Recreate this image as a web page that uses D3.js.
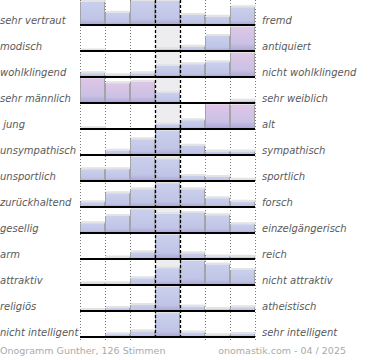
<!DOCTYPE html>
<html><head><meta charset="utf-8">
<script src="https://cdn.jsdelivr.net/npm/d3@7/dist/d3.min.js"></script>
<style>
html,body{margin:0;padding:0;background:#fff;}
svg{display:block;}
text{font-family:"DejaVu Sans",sans-serif;}
</style></head>
<body>
<script>
const leftLabels = ["sehr vertraut","modisch","wohlklingend","sehr männlich"," jung","unsympathisch","unsportlich","zurückhaltend","gesellig","arm","attraktiv","religiös","nicht intelligent"];
const rightLabels = ["fremd","antiquiert","nicht wohlklingend","sehr weiblich","alt","sympathisch","sportlich","forsch","einzelgängerisch","reich","nicht attraktiv","atheistisch","sehr intelligent"];
const scaleSteps = [1,2,3,4,5,6,7];
const row01 = [93, 49, 96, 96, 40, 33, 71];
const row02 = [2, 0, 0, 8, 17, 60, 97];
const row03 = [15, 7, 15, 44, 51, 59, 97];
const row04 = [99, 79, 85, 41, 0, 0, 9];
const row05 = [3, 0, 0, 19, 35, 99, 97];
const row06 = [0, 17, 63, 97, 37, 14, 14];
const row07 = [47, 47, 97, 87, 20, 16, 5];
const row08 = [19, 55, 71, 95, 71, 35, 21];
const row09 = [39, 68, 95, 76, 80, 71, 35];
const row10 = [0, 6, 27, 97, 23, 10, 9];
const row11 = [7, 7, 27, 67, 97, 82, 60];
const row12 = [4, 12, 24, 97, 18, 8, 15];
const row13 = [0, 11, 23, 95, 18, 7, 12];
const rows = [row01,row02,row03,row04,row05,row06,row07,row08,row09,row10,row11,row12,row13];
// bars drawn in the accent (pink) gradient: [row index, step index]
const accentBars = [[1,6],[2,6],[3,0],[3,1],[3,2],[4,5],[4,6]];
const footerLeft = "Onogramm Gunther, 126 Stimmen";
const footerRight = "onomastik.com - 04 / 2025";

const W = 370, H = 360;
const svg = d3.select("body").append("svg").attr("width", W).attr("height", H);
const defs = svg.append("defs");
const gBlue = defs.append("linearGradient").attr("id","gBlue").attr("x1",0).attr("y1",0).attr("x2",0).attr("y2",1);
gBlue.append("stop").attr("offset","0%").attr("stop-color","#c9d0ec");
gBlue.append("stop").attr("offset","75%").attr("stop-color","#c0c4e6");
gBlue.append("stop").attr("offset","100%").attr("stop-color","#aca3d6");
const gPink = defs.append("linearGradient").attr("id","gPink").attr("x1",0).attr("y1",0).attr("x2",0).attr("y2",1);
gPink.append("stop").attr("offset","0%").attr("stop-color","#dfc6e6");
gPink.append("stop").attr("offset","70%").attr("stop-color","#cac1e4");
gPink.append("stop").attr("offset","100%").attr("stop-color","#aca3d6");

const x = d3.scaleBand().domain(scaleSteps).range([80, 255]).padding(0);
const yBase = d3.scalePoint().domain(d3.range(rows.length)).range([25, 337]);
const h = d3.scaleLinear().domain([0, 100]).range([0, 25]).clamp(true);

// middle column background
svg.append("rect").attr("x", x(4)).attr("y", 0).attr("width", x.bandwidth())
  .attr("height", yBase(rows.length-1)).attr("fill", "#ededef");

// dotted grid
const edges = scaleSteps.map(s => x(s)).concat([x(7) + x.bandwidth()]);
svg.append("g").selectAll("line").data(edges.filter((d,i) => i !== 3 && i !== 4)).join("line")
  .attr("x1", d => d + 0.5).attr("x2", d => d + 0.5).attr("y1", 0).attr("y2", 340)
  .attr("stroke", "#777").attr("stroke-width", 1).attr("stroke-dasharray", "1,2");

const accentSet = new Set(accentBars.map(d => d[0] + "-" + d[1]));
const barData = [];
rows.forEach((r, ri) => r.forEach((v, ci) => barData.push({ri, ci, v, step: scaleSteps[ci]})));
const nz = barData.filter(d => d.v > 0);

const gb = svg.append("g");
gb.selectAll("rect.sh").data(nz).join("rect").attr("class","sh")
  .attr("x", d => x(d.step) + 1).attr("width", x.bandwidth())
  .attr("y", d => yBase(d.ri) - h(d.v) - 2).attr("height", 2)
  .attr("fill", "#e3e3e3");
gb.selectAll("rect.bar").data(nz).join("rect").attr("class","bar")
  .attr("x", d => x(d.step)).attr("width", x.bandwidth())
  .attr("y", d => yBase(d.ri) - h(d.v)).attr("height", d => h(d.v))
  .attr("fill", d => accentSet.has(d.ri + "-" + d.ci) ? "url(#gPink)" : "url(#gBlue)");
gb.selectAll("line.el").data(nz).join("line").attr("class","el")
  .attr("x1", d => x(d.step) + 0.5).attr("x2", d => x(d.step) + 0.5)
  .attr("y1", d => yBase(d.ri) - h(d.v)).attr("y2", d => yBase(d.ri))
  .attr("stroke", "#a4a4a8").attr("stroke-width", 1);
gb.selectAll("line.er").data(nz).join("line").attr("class","er")
  .attr("x1", d => x(d.step) + x.bandwidth() - 0.5).attr("x2", d => x(d.step) + x.bandwidth() - 0.5)
  .attr("y1", d => yBase(d.ri) - h(d.v)).attr("y2", d => yBase(d.ri))
  .attr("stroke", "#a4a4a8").attr("stroke-width", 1);

// baselines
svg.append("g").selectAll("line").data(d3.range(rows.length)).join("line")
  .attr("x1", 80).attr("x2", 255).attr("y1", d => yBase(d)).attr("y2", d => yBase(d))
  .attr("stroke", "#000").attr("stroke-width", 2);

// dashed middle lines
svg.append("g").selectAll("line").data([edges[3], edges[4]]).join("line")
  .attr("x1", d => d + 0.5).attr("x2", d => d + 0.5).attr("y1", 0).attr("y2", 340)
  .attr("stroke", "#000").attr("stroke-width", 1.3).attr("stroke-dasharray", "3,2");

// labels
svg.append("g").selectAll("text").data(leftLabels).join("text")
  .attr("x", 0).attr("y", (d,i) => yBase(i) - 1.5)
  .attr("font-size", "10px").attr("font-style", "italic").attr("fill", "#5a5a5a")
  .style("white-space", "pre").text(d => d);
svg.append("g").selectAll("text").data(rightLabels).join("text")
  .attr("x", 262).attr("y", (d,i) => yBase(i) - 1.5)
  .attr("font-size", "10px").attr("font-style", "italic").attr("fill", "#5a5a5a")
  .text(d => d);

svg.append("text").attr("x", 0).attr("y", 354).attr("font-size", "9.5px").attr("fill", "#aaa").text(footerLeft);
svg.append("text").attr("x", 346).attr("y", 354).attr("text-anchor", "end").attr("font-size", "9.5px").attr("fill", "#aaa").text(footerRight);
</script>
</body></html>
